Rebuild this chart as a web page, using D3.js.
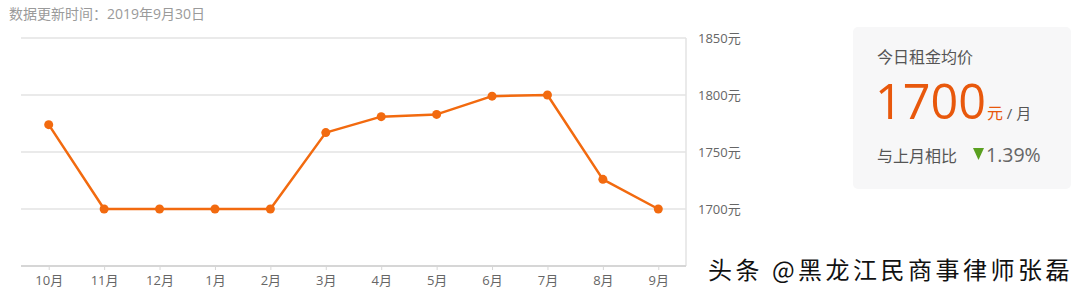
<!DOCTYPE html>
<html>
<head>
<meta charset="utf-8">
<script src="https://cdn.jsdelivr.net/npm/d3@7"></script>
<style>
  body { margin: 0; background: #fff; font-family: "Open Sans", "Noto Sans CJK SC", sans-serif; }
  svg { display: block; }
</style>
</head>
<body>
<svg width="1080" height="294"></svg>
<script>
const months = ['10月', '11月', '12月', '1月', '2月', '3月', '4月', '5月', '6月', '7月', '8月', '9月'];
const prices = [1774, 1700, 1700, 1700, 1700, 1767, 1781, 1783, 1799, 1800, 1726, 1700];
const yTicks = [1700, 1750, 1800, 1850];
const updateText = '数据更新时间：2019年9月30日';
const todayPrice = 1700;
const changePct = '1.39%';

const svg = d3.select('svg');
const font = '"Open Sans", "Noto Sans CJK SC", sans-serif';
const orange = '#f26a0f';

const margin = { left: 21, right: 394, top: 38, bottom: 28 };
const width = 1080 - margin.left - margin.right;
const height = 294 - margin.top - margin.bottom;

const x = d3.scalePoint().domain(months).range([0, width]).padding(0.5);
const y = d3.scaleLinear().domain([1650, 1850]).range([height, 0]);

svg.append('text')
  .attr('x', 9).attr('y', 19)
  .attr('font-family', font).attr('font-size', 14).attr('fill', '#9a9a9a')
  .text(updateText);

const g = svg.append('g').attr('transform', `translate(${margin.left},${margin.top})`);

// grid
g.append('g')
  .selectAll('line')
  .data(yTicks)
  .join('line')
  .attr('x1', 0).attr('x2', width)
  .attr('y1', d => y(d)).attr('y2', d => y(d))
  .attr('stroke', '#e3e3e3').attr('stroke-width', 1.5);

g.append('line')
  .attr('x1', width).attr('x2', width)
  .attr('y1', 0).attr('y2', height)
  .attr('stroke', '#e3e3e3').attr('stroke-width', 1.5);

// y labels on the right
const axisY = d3.axisRight(y).tickValues(yTicks).tickSize(0).tickPadding(12).tickFormat(d => d + '元');
g.append('g')
  .attr('transform', `translate(${width},0)`)
  .call(axisY)
  .call(a => a.select('.domain').remove())
  .selectAll('text')
  .attr('font-family', font).attr('font-size', 13).attr('fill', '#666');

// x axis
const axisX = d3.axisBottom(x).tickSize(4).tickPadding(6);
g.append('g')
  .attr('transform', `translate(0,${height})`)
  .call(axisX)
  .call(a => a.select('.domain').attr('stroke', '#d6d6d6').attr('stroke-width', 2).attr('d', `M0,0H${width}`))
  .call(a => a.selectAll('.tick line').attr('stroke', '#d6d6d6'))
  .selectAll('text')
  .attr('font-family', font).attr('font-size', 13).attr('fill', '#666');

// line
const line = d3.line().x((d, i) => x(months[i])).y(d => y(d));
g.append('path')
  .datum(prices)
  .attr('d', line)
  .attr('fill', 'none')
  .attr('stroke', orange)
  .attr('stroke-width', 2.5)
  .attr('stroke-linejoin', 'round');

g.selectAll('.pt')
  .data(prices)
  .join('circle')
  .attr('class', 'pt')
  .attr('cx', (d, i) => x(months[i]))
  .attr('cy', d => y(d))
  .attr('r', 4.5)
  .attr('fill', orange);

// side card
const card = svg.append('g').attr('transform', 'translate(853,27)');
card.append('rect')
  .attr('width', 218).attr('height', 162).attr('rx', 5)
  .attr('fill', '#f7f7f8');
card.append('text')
  .attr('x', 24).attr('y', 36)
  .attr('font-family', font).attr('font-size', 16).attr('fill', '#555')
  .text('今日租金均价');
const big = card.append('text')
  .attr('x', 22).attr('y', 92)
  .attr('font-family', font).attr('fill', '#e8580c');
big.append('tspan').attr('font-size', 48.5).text(todayPrice);
big.append('tspan').attr('font-size', 16).attr('fill', '#e8580c').attr('dx', 1).text('元');
big.append('tspan').attr('font-size', 15).attr('fill', '#555').text(' / 月');
card.append('text')
  .attr('x', 24).attr('y', 135)
  .attr('font-family', font).attr('font-size', 16).attr('fill', '#555')
  .text('与上月相比');
card.append('path')
  .attr('d', 'M0,0 L11,0 L5.5,12 Z')
  .attr('transform', 'translate(120,121)')
  .attr('fill', '#5aa020');
card.append('text')
  .attr('x', 133).attr('y', 135)
  .attr('font-family', font).attr('font-size', 19.5).attr('fill', '#666')
  .text(changePct);

// watermark
svg.append('text')
  .attr('x', 708).attr('y', 279)
  .attr('font-family', '"Noto Sans CJK SC", sans-serif').attr('font-size', 24)
  .attr('letter-spacing', 3.5)
  .attr('fill', '#111')
  .attr('stroke', '#fff').attr('stroke-width', 1.2).attr('paint-order', 'stroke')
  .text('头条 @黑龙江民商事律师张磊');
</script>
</body>
</html>
